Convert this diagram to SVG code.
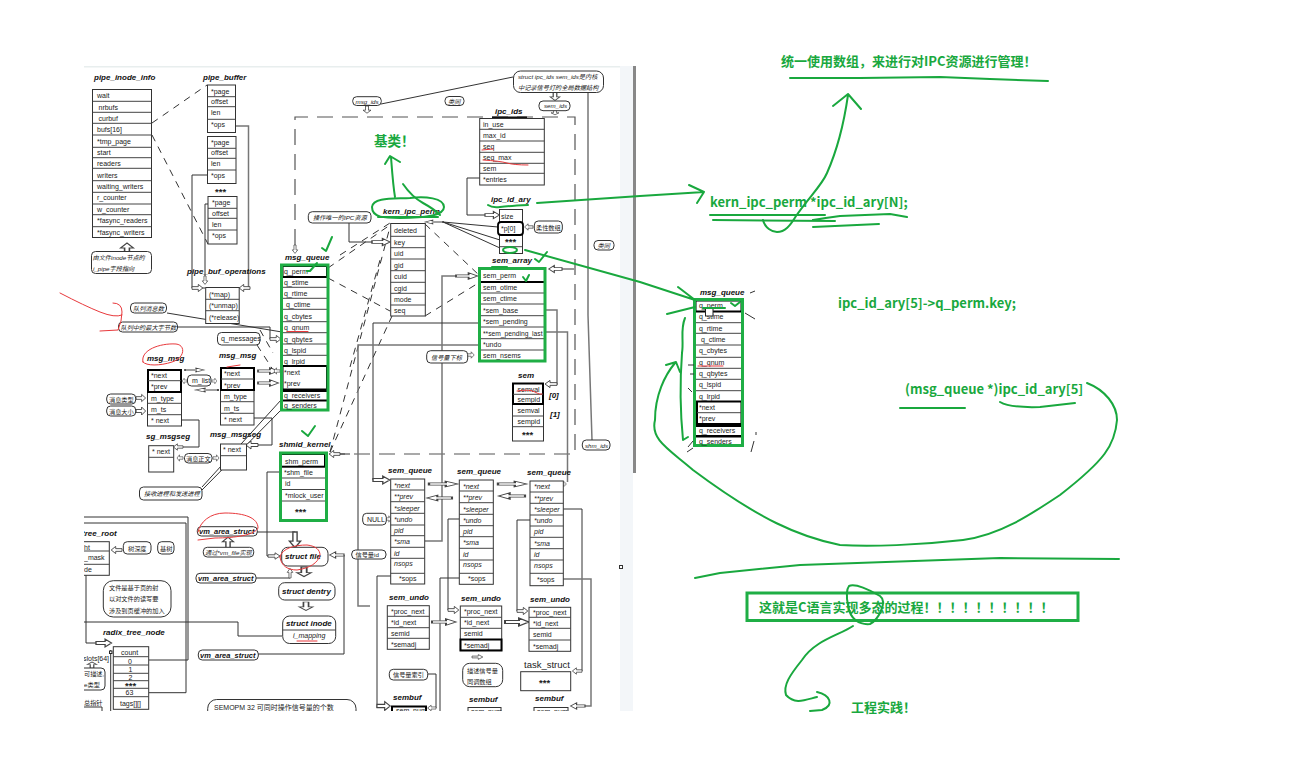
<svg xmlns="http://www.w3.org/2000/svg" width="1313" height="762" viewBox="0 0 1313 762">
<style>
text{font-family:"Liberation Sans","Noto Sans CJK SC",sans-serif;font-size:7px;fill:#222}
.t{font-weight:bold;font-style:italic;font-size:8px;fill:#111}
.v{font-weight:bold;font-style:italic;font-size:7.500px;fill:#111}
.i{font-style:italic}
.s{font-size:6.200px}
.st{font-size:9.500px;font-weight:bold}
.b{fill:#fff;stroke:#333;stroke-width:1}
.r{fill:none;stroke:#444;stroke-width:1}
.g{fill:none;stroke:#19a83e;stroke-width:2;stroke-linecap:round;stroke-linejoin:round}
.gb{fill:none;stroke:#1fae45;stroke-width:3}
.k{fill:none;stroke:#000;stroke-width:2}
.c{fill:none;stroke:#333;stroke-width:1}
.cg{fill:none;stroke:#777;stroke-width:1.5}
.d{fill:none;stroke:#333;stroke-width:1;stroke-dasharray:7 6}
.dg{fill:none;stroke:#555;stroke-width:1.2;stroke-dasharray:16 9}
.rd{fill:none;stroke:#e8393c;stroke-width:1;stroke-linecap:round}
.a{fill:#fff;stroke:#444;stroke-width:1}
.gt{font-family:"Noto Sans CJK SC","Noto Sans",sans-serif;font-weight:bold;font-size:13px;fill:#19a83e}
.l{fill:#fff;stroke:#333;stroke-width:1;rx:4px}
</style>
<defs>
<path id="ar" d="M0,-1.5H7V-4L12,0L7,4V1.5H0Z"/>
<clipPath id="win"><rect x="84" y="66" width="552" height="645"/></clipPath>
</defs>
<rect width="1313" height="762" fill="#fff"/>
<g id="window" clip-path="url(#win)">
<rect x="84" y="66" width="536" height="1.5" fill="#e8eeee"/>
<rect x="620" y="66" width="13" height="645" fill="#f3f6f9"/>
<rect x="633" y="66" width="3" height="407" fill="#888"/>
<rect x="619.5" y="565.5" width="3" height="3" fill="#fff" stroke="#333"/>
<g id="connectors">
<path class="d" d="M152,123L207,85M152,135L208,244"/>
<path class="cg" d="M236,126H248.500V288H240"/>
<path class="c" d="M207,175H192V288H205M208,204H205V284"/>
<path class="c" d="M167,313L282,332M177,327H270V339H281"/>
<path class="d" d="M257,345L277,376M260,330L273,353"/>
<path class="dg" d="M295,245V117H575V454H281"/>
<path class="c" d="M381,104L513,77"/>
<path class="cg" d="M588,92V315L592,440"/>
<path class="c" d="M181,420H199V447H175M254,418H272V445H248"/>
<path class="c" d="M202,487L281,400M202,490L281,410"/>
<path class="d" d="M328,268L390,225M328,278L390,311M330,452L390,227M330,452L392,316M340,255L390,223M350,367L380,260M425,224L480,276M425,316L480,282"/>
<path class="c" d="M349,223V242H378M480,178H467V215H490"/>
<path class="c" d="M443,222L498,227M443,222L500,240M443,222L500,248"/>
<path class="cg" d="M425,541H442V276H465"/>
<path class="cg" d="M545,310H557V384H550M545,332H567.500V482"/>
<path class="c" d="M479,323H373V480H382M574,269H558"/>
<path class="cg" d="M479,345H358V606H370"/>
<path class="c" d="M377,708V576H391M459,519H448V610H452M459,578H440V711M530,520H517V611H522"/>
<path class="c" d="M563,509H582V671H575M428,674H436V708H428M340,454H350"/>
<path class="cg" d="M563,579H591V706H575"/>
<path class="c" d="M281,472H267V556H272M257,532H295M256,578H290V572M258,654H344V555H335"/>
<path class="c" d="M84,517H188V660H149M84,523H186V692.700H149M84,622H238V636H282M86,570V643H96M110.700,650V711"/>
<g class="a">
<use href="#ar" transform="translate(127,255) rotate(-90) scale(1,1.6)"/>
<use href="#ar" transform="translate(205,276) rotate(90) scale(.7)"/>
<use href="#ar" transform="translate(192,288) scale(.9)"/>
<use href="#ar" transform="translate(250,288) rotate(180) scale(.9)"/>
<use href="#ar" transform="translate(270,339) scale(.9)"/>
<use href="#ar" transform="translate(295,245) rotate(90) scale(.7)"/>
<use href="#ar" transform="translate(258,371) scale(1.7,.8)"/>
<use href="#ar" transform="translate(280,371) rotate(180) scale(.5,.8)"/>
<use href="#ar" transform="translate(258,383) scale(1.7,.8)"/>
<use href="#ar" transform="translate(185,370) scale(1.6,.5)"/>
<use href="#ar" transform="translate(218,390) rotate(180) scale(1.9,.5)"/>
<use href="#ar" transform="translate(187,381) rotate(180) scale(.4,.7)"/>
<use href="#ar" transform="translate(212,381) scale(.4,.7)"/>
<use href="#ar" transform="translate(136,398) scale(.8,.9)"/>
<use href="#ar" transform="translate(136,411) scale(.8,1)"/>
<use href="#ar" transform="translate(183,447) rotate(180) scale(.8)"/>
<use href="#ar" transform="translate(258,445) rotate(180) scale(1)"/>
<use href="#ar" transform="translate(183,458) rotate(180) scale(.5,.8)"/>
<use href="#ar" transform="translate(213,458) scale(.5,.8)"/>
<use href="#ar" transform="translate(372,242) scale(1.5,.9)"/>
<use href="#ar" transform="translate(485,215) scale(1.2,.9)"/>
<use href="#ar" transform="translate(443,222) rotate(180) scale(1.5,.5)"/>
<use href="#ar" transform="translate(533,227) rotate(180) scale(.7,.8)"/>
<use href="#ar" transform="translate(367,106) rotate(90) scale(.6,1)"/>
<use href="#ar" transform="translate(555,92) rotate(90) scale(.7,1.2)"/>
<use href="#ar" transform="translate(555,110) rotate(90) scale(.4,1)"/>
<use href="#ar" transform="translate(562,269) rotate(180) scale(1.1,.9)"/>
<use href="#ar" transform="translate(456,276) scale(1.8,.8)"/>
<use href="#ar" transform="translate(557,384) rotate(180) scale(1,.9)"/>
<use href="#ar" transform="translate(467,355) scale(.6,.8)"/>
<use href="#ar" transform="translate(373,480) scale(1.4,1)"/>
<use href="#ar" transform="translate(429,484) scale(2.4,.7)"/>
<use href="#ar" transform="translate(452,498) rotate(180) scale(2.1,.7)"/>
<use href="#ar" transform="translate(498,484) scale(2.4,.7)"/>
<use href="#ar" transform="translate(525,496) rotate(180) scale(2.2,.8)"/>
<use href="#ar" transform="translate(386,519) scale(.4,.8)"/>
<use href="#ar" transform="translate(566,484) rotate(180) scale(.3,.7)"/>
<use href="#ar" transform="translate(377,706) scale(1.1,1.1)"/>
<use href="#ar" transform="translate(448,610) scale(.9,.9)"/>
<use href="#ar" transform="translate(517,611) scale(.9,.9)"/>
<use href="#ar" transform="translate(432,622) scale(2,.8)"/>
<use href="#ar" transform="translate(505,622) scale(2,1)"/>
<use href="#ar" transform="translate(582,671) rotate(180) scale(.8,.8)"/>
<use href="#ar" transform="translate(585,706) rotate(180) scale(1.2,.8)"/>
<use href="#ar" transform="translate(436,708) rotate(180) scale(.7,.7)"/>
<use href="#ar" transform="translate(472,657) scale(.9,.6)"/>
<use href="#ar" transform="translate(340,454) rotate(180) scale(.9,.9)"/>
<use href="#ar" transform="translate(268,556) scale(1,.8)"/>
<use href="#ar" transform="translate(295,532) rotate(90) scale(1.3,1.4)"/>
<use href="#ar" transform="translate(228,548) rotate(-90) scale(.9,1.4)"/>
<use href="#ar" transform="translate(290,578) rotate(-90) scale(.8,.7)"/>
<use href="#ar" transform="translate(344,555) rotate(180) scale(1.2,.8)"/>
<use href="#ar" transform="translate(304,567) rotate(90) scale(.8,1.8)"/>
<use href="#ar" transform="translate(306,602) rotate(90) scale(.7,1.7)"/>
<use href="#ar" transform="translate(96,643) scale(1.3,1)"/>
<use href="#ar" transform="translate(92,668) rotate(-90) scale(.5,1.2)"/>
<use href="#ar" transform="translate(122,550) rotate(180) scale(.9,.9)"/>
</g>
</g>
<g id="pipe_inode_info">
<text class="t" x="94" y="80">pipe_inode_info</text>
<rect class="b" x="92.500" y="89.500" width="59" height="148"/>
<path class="r" d="M92.500,101.300h59M92.500,112.300h59M92.500,123.300h59M92.500,135h59M92.500,147.300h59M92.500,157.700h59M92.500,168.300h59M92.500,180.700h59M92.500,192.300h59M92.500,204h59M92.500,214.700h59M92.500,226.700h59"/>
<text x="97" y="98">wait</text><text x="98.500" y="110">nrbufs</text><text x="98.500" y="121">curbuf</text><text x="97" y="132">bufs[16]</text><text x="97" y="144">*tmp_page</text><text x="97" y="155">start</text><text x="97" y="166">readers</text><text x="97" y="178">writers</text><text x="97" y="189">waiting_writers</text><text x="97" y="200">r_counter</text><text x="97" y="212">w_counter</text><text x="97" y="223">*fasync_readers</text><text x="97" y="235">*fasync_writers</text>
</g>
<g id="pipe_inode_note"><rect class="l" x="91.500" y="251.500" width="60" height="22"/><text class="i s" x="92.500" y="259.500">由文件inode节点的</text><text class="i s" x="93" y="270.500">i_pipe字段指向</text></g>
<g id="pipe_buffer_1">
<text class="t" x="203" y="80">pipe_buffer</text>
<rect class="b" x="207.500" y="85" width="28" height="47.500"/>
<path class="r" d="M207.500,96.700h28M207.500,106.700h28M207.500,119.300h28"/>
<text x="211" y="93.500">*page</text><text x="211" y="104">offset</text><text x="211" y="115">len</text><text x="211" y="127">*ops</text>
</g>
<g id="pipe_buffer_2">
<rect class="b" x="207.500" y="136.500" width="28.500" height="47"/>
<path class="r" d="M207.500,148.300h28.500M207.500,158.300h28.500M207.500,170h28.500"/>
<text x="211" y="144.500">*page</text><text x="211" y="155">offset</text><text x="211" y="166">len</text><text x="211" y="178">*ops</text>
<text class="st" x="215" y="195">***</text>
</g>
<g id="pipe_buffer_3">
<rect class="b" x="208" y="196.500" width="29" height="47.500"/>
<path class="r" d="M208,208.300h29M208,218.300h29M208,230h29"/>
<text x="212" y="205">*page</text><text x="212" y="215.500">offset</text><text x="212" y="226.500">len</text><text x="212" y="238">*ops</text>
</g>
<g id="pipe_buf_operations">
<text class="t" x="187" y="274">pipe_buf_operations</text>
<rect class="b" x="205.700" y="287.500" width="33.500" height="36"/>
<path class="r" d="M205.700,299.300h33.500M205.700,310.700h33.500"/>
<text x="209" y="296.500">(*map)</text><text x="209" y="308">(*unmap)</text><text x="209" y="319.500">(*release)</text>
</g>
<g id="msg_queue">
<text class="t" x="285" y="260">msg_queue</text>
<rect x="282" y="265.500" width="45.500" height="144.500" fill="#fff"/>
<path class="r" d="M282,287.300h45M282,298.300h45M282,309.300h45M282,321.700h45M282,332.700h45M282,344h45M282,355.300h45"/>
<rect class="k" x="282.500" y="266" width="44.500" height="11"/>
<rect class="k" x="282.500" y="366" width="44.500" height="23.500"/>
<rect x="282" y="389" width="45" height="3" fill="#000"/><rect x="282" y="399.500" width="45" height="2" fill="#000"/>
<rect class="gb" x="281.500" y="265" width="46.500" height="145"/>
<text x="284" y="274">q_perm</text><text x="284" y="285">q_stime</text><text x="284" y="296">q_rtime</text><text x="286" y="307">q_ctime</text><text x="284" y="319">q_cbytes</text><text x="284" y="330">q_qnum</text><text x="284" y="341.500">q_qbytes</text><text x="284" y="352.500">q_lspid</text><text x="284" y="364">q_lrpid</text><text x="284" y="374.500">*next</text><text x="284" y="386">*prev</text><text x="284" y="397.500">q_receivers</text><text x="284" y="408">q_senders</text>
</g>
<g id="shmid_kernel">
<text class="t" x="279" y="447">shmid_kernel</text>
<rect x="281" y="453" width="45" height="67" fill="#fff"/>
<path class="r" d="M281,478h45M281,489.500h45M281,501h45"/>
<rect class="k" x="281" y="454" width="44" height="12.700"/>
<rect class="gb" x="280.500" y="453" width="46" height="67.500"/>
<text x="285" y="463.500">shm_perm</text><text x="284" y="475">*shm_file</text><text x="285" y="486">id</text><text x="285" y="497.500">*mlock_user</text><text class="st" x="295" y="515">***</text>
</g>
<g id="msg_msg_1">
<text class="t" x="147" y="361">msg_msg</text>
<rect class="b" x="147.500" y="369.500" width="34" height="56.500"/>
<path class="r" d="M147.500,403.300h34M147.500,414.700h34"/>
<rect class="k" x="148" y="370" width="33" height="22"/><path class="r" d="M148,380.700h33"/>
<text x="151" y="377.500">*next</text><text x="151" y="389">*prev</text><text x="151" y="400.500">m_type</text><text x="151" y="412">m_ts</text><text x="151" y="423">* next</text>
</g>
<g id="msg_msg_2">
<text class="t" x="219" y="358">msg_msg</text>
<rect class="b" x="220.500" y="368" width="33.500" height="57"/>
<path class="r" d="M220.500,401.700h33.500M220.500,413.300h33.500"/>
<rect class="k" x="221" y="368" width="33" height="22"/><path class="r" d="M221,379h33"/>
<text x="224" y="376">*next</text><text x="224" y="387.500">*prev</text><text x="224" y="399">m_type</text><text x="224" y="410.500">m_ts</text><text x="224" y="421.500">* next</text>
</g>
<g id="sg_msgseg">
<text class="t" x="146" y="439">sg_msgseg</text>
<rect class="b" x="148.700" y="445.700" width="25" height="26.300"/><path class="r" d="M148.700,457.300h25"/>
<text x="152" y="453.500">* next</text>
</g>
<g id="msg_msgseg">
<text class="t" x="210" y="437">msg_msgseg</text>
<rect class="b" x="220.500" y="444" width="26" height="26"/><path class="r" d="M220.500,455.700h26"/>
<text x="223" y="451.500">* next</text>
</g>
<g id="msg_labels">
<rect class="l" x="130.500" y="303" width="36" height="10"/><text class="i s" x="133" y="310.500">队列消息数</text>
<rect class="l" x="118.500" y="322" width="59" height="10"/><text class="i s" x="120.500" y="329.500">队列中的最大字节数</text>
<rect class="l" x="217.500" y="332.500" width="42.500" height="12.500"/><text x="221" y="341">q_messages</text>
<rect class="l" x="187.500" y="375" width="23.500" height="11"/><text x="192" y="383">m_list</text>
<rect class="l" x="106.700" y="394" width="29" height="10"/><text class="s" x="109" y="401.500">消息类型</text>
<rect class="l" x="106.700" y="406" width="29" height="10"/><text class="s" x="109" y="413.500">消息大小</text>
<rect class="l" x="184.500" y="453.500" width="27.500" height="9.500"/><text class="s" x="186" y="460.500">消息正文</text>
<rect class="l" x="139.500" y="487" width="62.500" height="13"/><text class="i s" x="144" y="496">接收进程和发送进程</text>
</g>
<g id="kern_ipc_perm">
<text class="t" x="383" y="214">kern_ipc_perm</text>
<rect class="b" x="390.700" y="223.500" width="34.600" height="92.500"/>
<path class="r" d="M390.700,236.300h34.600M390.700,247.700h34.600M390.700,259h34.600M390.700,270.700h34.600M390.700,282.300h34.600M390.700,293.300h34.600M390.700,305h34.600"/>
<text x="394" y="233">deleted</text><text x="394" y="245">key</text><text x="394" y="256">uid</text><text x="394" y="268">gid</text><text x="394" y="279">cuid</text><text x="394" y="290.500">cgid</text><text x="394" y="301.500">mode</text><text x="394" y="313">seq</text>
</g>
<g id="ipc_ids">
<text class="t" x="495" y="114">ipc_ids</text>
<rect x="492" y="116.500" width="35" height="1.500" fill="#111"/>
<rect class="b" x="479.700" y="118.500" width="64.600" height="66.500"/>
<path class="r" d="M479.700,129.300h64.600M479.700,141h64.600M479.700,152.300h64.600M479.700,163.300h64.600M479.700,173.300h64.600"/>
<text x="483" y="126.500">in_use</text><text x="483" y="138">max_id</text><text x="483" y="149">seq</text><text x="483" y="160">seq_max</text><text x="483" y="171">sem</text><text x="483" y="182">*entries</text>
</g>
<g id="ipc_id_ary">
<text class="t" x="491" y="202">ipc_id_ary</text>
<rect class="b" x="499.500" y="209.500" width="23" height="44"/>
<path class="r" d="M499.500,246.700h23"/>
<rect x="498" y="222" width="25" height="13" rx="3" fill="#fff" stroke="#000" stroke-width="1.800"/>
<text x="501" y="218.500">size</text><text x="501" y="231">*p[0]</text><text class="st" x="505" y="245">***</text>
</g>
<g id="sem_array">
<text class="t" x="492" y="263">sem_array</text>
<rect x="480" y="269" width="64" height="91.500" fill="#fff"/>
<path class="r" d="M480,293h64M480,304h64M480,315.700h64M480,327h64M480,338.700h64M480,350h64"/>
<rect x="480" y="281" width="65" height="2" fill="#000"/>
<rect class="gb" x="479.500" y="268.500" width="65.500" height="92.500"/>
<text x="483" y="278">sem_perm</text><text x="483" y="290">sem_otime</text><text x="483" y="301">sem_ctime</text><text x="483" y="312.500">*sem_base</text><text x="483" y="324">*sem_pending</text><text x="483" y="335.500" style="font-size:6.700px">**sem_pending_last</text><text x="483" y="347">*undo</text><text x="483" y="358">sem_nsems</text>
</g>
<g id="sem">
<text class="t" x="518" y="378">sem</text>
<rect class="b" x="512.500" y="383.500" width="31" height="57.500"/>
<path class="r" d="M512.500,416h31M512.500,426.700h31"/>
<rect class="k" x="513" y="383.500" width="30" height="20.500"/><path class="r" d="M513,394.300h30"/>
<text x="517.500" y="391.500">semval</text><text x="517.500" y="401.500">sempid</text><text x="517.500" y="412.500">semval</text><text x="517.500" y="423.500">sempid</text><text class="st" x="522" y="438">***</text>
<text class="t" x="549" y="398">[0]</text><text class="t" x="550" y="417">[1]</text>
</g>
<g id="sem_queue_1">
<text class="t" x="388" y="473">sem_queue</text>
<rect class="b" x="390.700" y="479" width="34" height="105"/>
<path class="r" d="M390.700,490h34M390.700,501.700h34M390.700,513.300h34M390.700,525h34M390.700,535.700h34M390.700,547.300h34M390.700,558.300h34M390.700,573.300h34"/>
<g class="i"><text x="394" y="487.500">*next</text><text x="394" y="498.500">**prev</text><text x="394" y="510.500">*sleeper</text><text x="394" y="521.500">*undo</text><text x="394" y="532.500">pid</text><text x="394" y="544">*sma</text><text x="394" y="555.500">id</text><text x="394" y="566">nsops</text></g><text x="399" y="581">*sops</text>
</g>
<g id="sem_queue_2">
<text class="t" x="457" y="474">sem_queue</text>
<rect class="b" x="459.300" y="480" width="34" height="104.300"/>
<path class="r" d="M459.300,491h34M459.300,502.700h34M459.300,514.300h34M459.300,525.700h34M459.300,536.700h34M459.300,548.300h34M459.300,560h34M459.300,573.300h34"/>
<g class="i"><text x="463" y="488.500">*next</text><text x="463" y="499.500">**prev</text><text x="463" y="511.500">*sleeper</text><text x="463" y="522.500">*undo</text><text x="463" y="533.500">pid</text><text x="463" y="545">*sma</text><text x="463" y="556.500">id</text><text x="463" y="567">nsops</text></g><text x="468" y="581">*sops</text>
</g>
<g id="sem_queue_3">
<text class="t" x="527" y="475">sem_queue</text>
<rect class="b" x="530" y="481" width="33.300" height="104.700"/>
<path class="r" d="M530,492h33.300M530,503.300h33.300M530,515h33.300M530,526h33.300M530,537.300h33.300M530,548.700h33.300M530,560h33.300M530,573.300h33.300"/>
<g class="i"><text x="534" y="489">*next</text><text x="534" y="500.500">**prev</text><text x="534" y="511.500">*sleeper</text><text x="534" y="523">*undo</text><text x="534" y="534">pid</text><text x="534" y="545.500">*sma</text><text x="534" y="557">id</text><text x="534" y="568">nsops</text></g><text x="537" y="582">*sops</text>
</g>
<g id="sem_undo_1">
<text class="t" x="389" y="600">sem_undo</text>
<rect class="b" x="387.300" y="605.700" width="42" height="43.600"/>
<path class="r" d="M387.300,616.300h42M387.300,627.700h42M387.300,638.300h42"/>
<text x="391" y="613.500">*proc_next</text><text x="391" y="624.500">*id_next</text><text x="391" y="635.500">semid</text><text x="391" y="646.500">*semadj</text>
</g>
<g id="sem_undo_2">
<text class="t" x="461" y="601">sem_undo</text>
<rect class="b" x="460.300" y="606" width="41.400" height="44.300"/>
<path class="r" d="M460.300,617.300h41.400M460.300,628.300h41.400"/>
<rect class="k" x="460.500" y="639.500" width="41" height="11"/>
<text x="464" y="614">*proc_next</text><text x="464" y="625">*id_next</text><text x="464" y="636">semid</text><text x="464" y="647.500">*semadj</text>
</g>
<g id="sem_undo_3">
<text class="t" x="530" y="602">sem_undo</text>
<rect class="b" x="529" y="607.300" width="41.700" height="44"/>
<path class="r" d="M529,617.300h41.700M529,628.300h41.700M529,640h41.700"/>
<text x="533" y="614.500">*proc_next</text><text x="533" y="625.500">*id_next</text><text x="533" y="637">semid</text><text x="533" y="648.500">*semadj</text>
</g>
<g id="task_struct">
<text x="524" y="668" style="font-size:9.500px">task_struct</text>
<rect class="b" x="520.700" y="671.700" width="50" height="19"/><text class="st" x="539" y="686">***</text>
</g>
<g id="sembuf_1"><text class="t" x="393" y="700">sembuf</text><rect class="k" x="392" y="706.500" width="34" height="12"/><text x="396" y="713">sem_num</text></g>
<g id="sembuf_2"><text class="t" x="469" y="702">sembuf</text><rect class="b" x="468" y="707.500" width="33" height="12"/><text x="471" y="714">sem_num</text></g>
<g id="sembuf_3"><text class="t" x="535" y="701">sembuf</text><rect class="b" x="534" y="707.500" width="34" height="12"/><text x="537" y="714">sem_num</text></g>
<g id="ipc_labels">
<rect class="l" x="513.500" y="71" width="90" height="21.500" style="rx:7px"/><text class="i s" x="518" y="78.500">struct ipc_ids sem_ids是内核</text><text class="i s" x="518" y="89.500">中记录信号灯的全局数据结构</text>
<rect class="l" x="352.700" y="96.700" width="28.600" height="8.800"/><text class="i s" x="355.500" y="103.500">msg_ids</text>
<rect class="l" x="445" y="96.500" width="19" height="9"/><text class="i s" x="448" y="103.500">类同</text>
<rect class="l" x="539" y="101" width="31" height="9.700"/><text class="i s" x="544" y="108">sem_ids</text>
<rect class="l" x="308.300" y="211.700" width="62.700" height="11.300"/><text class="i s" x="313" y="220">操作唯一的IPC资源</text>
<rect class="l" x="534.300" y="221" width="28" height="12"/><text class="s" x="536" y="229.500">柔性数组</text>
<rect class="l" x="426.700" y="350.700" width="41" height="12.300"/><text class="i s" x="431" y="359.500">信号量下标</text>
<rect class="l" x="594" y="240.500" width="20" height="9.500"/><text class="i s" x="597.500" y="247.500">类同</text>
<rect class="l" x="582.300" y="440" width="27.700" height="10"/><text class="i s" x="585" y="447.500">shm_ids</text>
<rect class="l" x="362.700" y="513.300" width="23.600" height="11.700"/><text x="367" y="522">NULL</text>
<rect class="l" x="351.700" y="550" width="34.300" height="9"/><text class="s" x="355.500" y="557">信号量id</text>
<rect class="l" x="389.300" y="669.300" width="38.400" height="10.700"/><text class="s" x="393" y="677">信号量索引</text>
<rect class="l" x="462.700" y="663.300" width="40" height="23.400" style="rx:7px"/><text class="s" x="467" y="673">描述信号量</text><text class="s" x="467" y="684">同调数组</text>
</g>
<g id="tree_root">
<text class="t" x="82" y="536">tree_root</text>
<rect class="b" x="70" y="541.700" width="39.300" height="33.600"/>
<path class="r" d="M70,551h39.300M70,564.300h39.300"/>
<text x="84" y="549.500">ht</text><text x="84" y="560">_mask</text><text x="84" y="571.500">de</text>
<rect class="l" x="123.300" y="541.700" width="27.700" height="12.300"/><text class="s" x="128" y="550.500">树深度</text>
<rect class="l" x="157.700" y="541.700" width="16.300" height="12.300"/><text class="s" x="160" y="550.500">基树</text>
<rect class="l" x="103.300" y="580.700" width="67.700" height="36.300" style="rx:10px"/><text class="s" x="109" y="589.500">文件是基于页的射</text><text class="s" x="109" y="601">以对文件的读写要</text><text class="s" x="109" y="612.500">涉及到页缓冲的加入</text>
</g>
<g id="radix_tree_node">
<text class="t" x="103" y="635">radix_tree_node</text>
<rect class="b" x="113.300" y="646.700" width="35.400" height="62.600"/>
<path class="r" d="M113.300,656.700h35.400M113.300,665h35.400M113.300,673.300h35.400M113.300,680.700h35.400M113.300,688.300h35.400M113.300,696.700h35.400"/>
<text x="121" y="654.500">count</text><text x="128" y="663.500">0</text><text x="128.500" y="671.500">1</text><text x="128.500" y="679.500">2</text><text class="st" x="125" y="689">***</text><text x="125.500" y="695">63</text><text x="120" y="705.500">tags[][]</text>
<text x="83" y="661">slots[64]</text>
<rect class="l" x="70" y="668" width="35" height="22"/>
<text class="s" x="84" y="676">可描述,</text><text class="s" x="84" y="687">e类型</text><text class="s" x="84" y="705">总指针</text>
<path class="c" d="M84,707H102V711"/>
<rect x="109.500" y="651" width="2.500" height="2.500" fill="#fff" stroke="#222"/>
</g>
<g id="vm_area_struct_1"><rect class="l" x="197.300" y="526.700" width="60" height="9.300"/><text class="v" x="199" y="534">vm_area_struct</text></g>
<g id="vm_note"><rect class="l" x="203.300" y="547.300" width="50.400" height="9.700" fill="#eee"/><text class="i s" x="205" y="554.500">通过*vm_file实现</text></g>
<g id="vm_area_struct_2"><rect class="l" x="196" y="573.300" width="60" height="9.700"/><text class="v" x="198" y="581">vm_area_struct</text></g>
<g id="vm_area_struct_3"><rect class="l" x="198.300" y="650" width="60" height="10"/><text class="v" x="200" y="658">vm_area_struct</text></g>
<g id="struct_file"><rect class="l" x="281.700" y="547.300" width="46.300" height="18.700" style="rx:6px"/><text class="t" x="285" y="559">struct file</text></g>
<g id="struct_dentry"><rect class="l" x="278.700" y="582.700" width="56.300" height="17.300" style="rx:6px"/><text class="t" x="282" y="594">struct dentry</text></g>
<g id="struct_inode"><rect class="l" x="282.700" y="616" width="53" height="27.500" style="rx:7px"/><path class="r" d="M282.700,630h53"/><text class="t" x="286" y="626">struct inode</text><text class="i" x="293" y="637.500">i_mapping</text></g>
<g id="semopm"><rect class="l" x="207.700" y="699.500" width="148.300" height="30" style="rx:9px"/><text x="214" y="710">SEMOPM  32  可同时操作信号量的个数</text></g>
</g>
<g id="msg_queue_copy">
<text class="t" x="700" y="295">msg_queue</text>
<rect x="695" y="300" width="47" height="145" fill="#fff"/>
<path class="r" d="M695,322.700h47M695,333.300h47M695,345h47M695,357.300h47M695,368.300h47M695,379.300h47M695,390.700h47"/>
<rect class="k" x="695.500" y="300.500" width="46" height="11"/>
<rect class="k" x="697" y="401.500" width="44.500" height="22.500"/>
<path class="r" d="M697,412.700h44"/>
<rect x="695" y="424" width="47" height="3" fill="#000"/><rect x="695" y="435" width="47" height="2.500" fill="#000"/>
<rect class="gb" x="694.500" y="299.500" width="48" height="146"/>
<text x="699" y="308">q_perm</text><text x="699" y="319">q_stime</text><text x="699" y="330.500">q_rtime</text><text x="701" y="341.500">q_ctime</text><text x="699" y="353">q_cbytes</text><text x="699" y="364.500">q_qnum</text><text x="699" y="375.500">q_qbytes</text><text x="699" y="387">q_lspid</text><text x="699" y="398.500">q_lrpid</text><text x="699" y="409.500">*next</text><text x="699" y="421">*prev</text><text x="699" y="432.500">q_receivers</text><text x="699" y="443.500">q_senders</text>
<rect x="705.500" y="308" width="7.500" height="8" fill="#fff" stroke="#222"/>
<path class="c" d="M688,365H694M690,374L694,374M692,392L688,388M693,441L688,447M693,448L687,452M750,293L755,291M745,313L755,319M756,432V435M754,441L751,452"/>
</g>
<g id="red_marks">
<path class="rd" d="M60,293Q85,306 100,312T122,315M113,303Q122,303 122,312T118,330L100,331"/>
<path class="rd" d="M143,362C140,350 160,343 176,344C186,345 185,358 172,362C160,366 146,366 143,362Z"/>
<path class="rd" d="M198,540L215,538C235,538 255,535 258,528C258,518 245,513 225,513C210,513 200,522 198,532"/>
<path class="rd" d="M280,557C282,548 295,545 307,545C316,546 320,550 320,555C318,563 310,568 297,570C288,570 281,566 280,557Z"/>
<path class="rd" stroke-width="1.200" d="M297,641H317M287,331.500H308M698,366H723"/>
<path class="rd" d="M482,150L493,149M483,160Q500,161 507,163T528,165M517,391Q530,389 535,392T542,394M227,367L240,365"/>
</g>
<g id="green_marks">
<path class="g" d="M372,207C373,197 395,199 410,198C425,196 444,198 444,207C444,216 425,218 400,218C385,218 372,218 372,207Z"/>
<path class="g" d="M395,197C393,185 392,170 391,157M385,164L390,156L400,162M403,184Q412,197 423,203T440,215M378,217H438"/>
<path class="g" d="M488,205Q492,208 500,207T528,205M537,203L640,196L704,192M689,185L704,192L697,203"/>
<path class="g" d="M525,250L640,282L695,300M678,287L695,300M667,314L695,307"/>
<ellipse class="g" cx="510" cy="250" rx="7" ry="3"/>
<path class="g" d="M535,259L539,262L547,252M492,267L507,267"/>
<path class="g" d="M523,277L526,281L529,275" stroke-width="1.500"/>
<path class="g" d="M322,248L326,251L332,237"/>
<path class="g" d="M307,271L310,271L317,263M302,431L308,436L315,426"/>
<path class="g" d="M731,303L735,306L740,302M703,308H725" stroke-width="1.500"/>
<path class="g" d="M763,220C765,228 772,232 777,232C785,232 790,226 796,216C810,196 822,185 827,173C835,155 843,130 848,95M833,106L848,94L861,109"/>
<path class="g" d="M710,215H825M713,220L835,221M813,220Q825,218 840,216L890,214L907,217M813,227L879,224"/>
<path class="g" d="M790,78L860,78L940,77L990,79L1048,81"/>
<path class="g" d="M685,318C680,330 684,340 682,353C680,380 680,410 683,440M683,440L688,437"/>
<path class="g" d="M1087,383C1105,390 1117,405 1117,420C1115,445 1105,460 1060,495C1030,515 1000,535 963,540C920,545 870,547 840,545C800,537 760,520 693,470C670,450 650,440 655,420C655,395 665,375 675,363M666,365L676,362L680,372"/>
<path class="g" d="M900,408H965M1000,402Q1010,408 1040,407L1075,403"/>
<path class="g" d="M695,578L720,573L800,565L1000,558L1119,559"/>
<rect class="gb" x="747" y="593" width="331" height="27.500" stroke-width="2.500"/>
<path class="g" d="M849,586C855,583 870,590 880,596C888,602 878,620 870,624C860,625 850,620 848,605C846,595 846,590 849,586Z"/>
<path class="g" d="M853,626C840,635 815,640 802,660C790,675 783,685 786,695C795,705 805,700 817,697M817,692C830,695 835,705 822,710L810,711"/>
</g>
<g id="green_text">
<text class="gt" x="781" y="66">统一使用数组，来进行对IPC资源进行管理！</text>
<text class="gt" x="710" y="207">kern_ipc_perm *ipc_id_ary[N];</text>
<text class="gt" x="838" y="308">ipc_id_ary[5]-&gt;q_perm.key;</text>
<text class="gt" x="905" y="394">(msg_queue *)ipc_id_ary[5]</text>
<text class="gt" x="759" y="612">这就是C语言实现多态的过程！！！！！！！！！！</text>
<text class="gt" x="851" y="712">工程实践！</text>
<text class="gt" x="374" y="146" style="font-size:13.500px">基类！</text>
</g>
</svg>
